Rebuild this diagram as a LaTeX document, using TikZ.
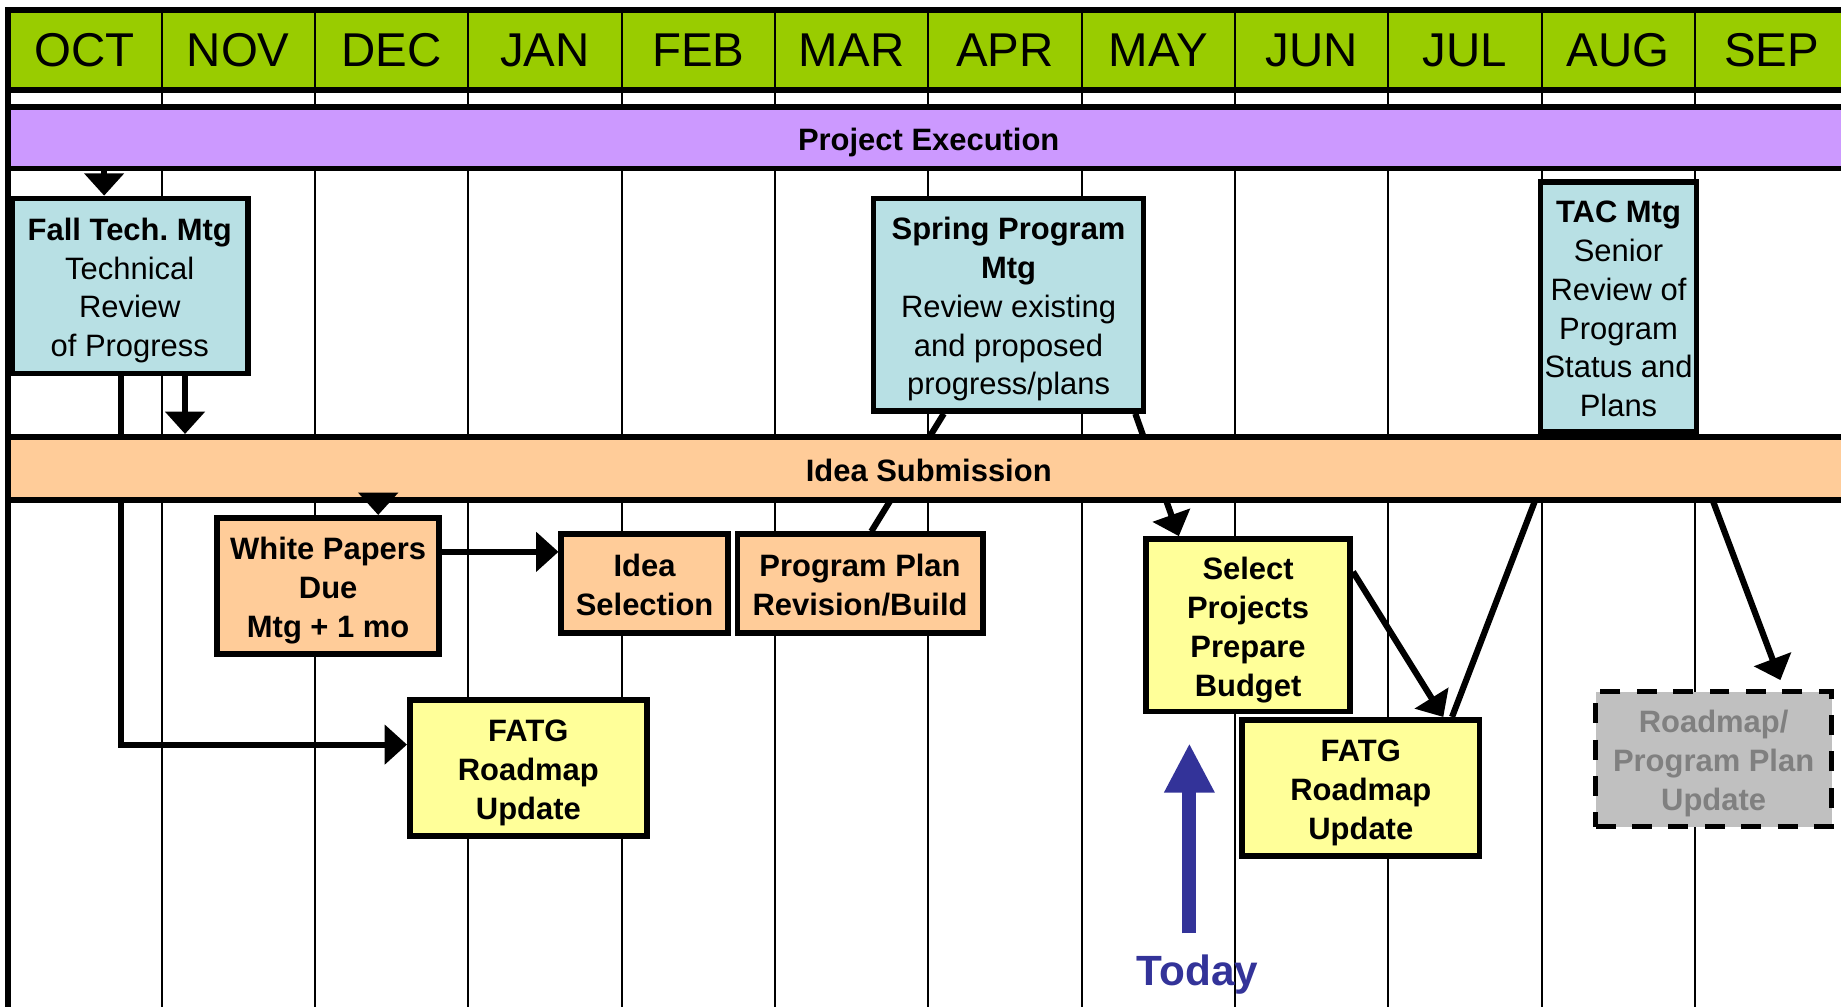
\documentclass[tikz,border=0pt]{standalone}
\usepackage{fontspec}
\setmainfont{Liberation Sans}
\usepackage{tikz}
\usetikzlibrary{arrows.meta,calc,positioning}
\definecolor{hdrgreen}{RGB}{153,204,0}
\definecolor{execpurple}{RGB}{204,153,255}
\definecolor{mtgcyan}{RGB}{184,224,228}
\definecolor{ideaorange}{RGB}{255,204,153}
\definecolor{taskyellow}{RGB}{255,255,153}
\definecolor{futuregray}{RGB}{192,192,192}
\definecolor{futuretext}{RGB}{128,128,128}
\definecolor{todayblue}{RGB}{51,51,153}
\newcommand{\boxstrut}{\rule{0pt}{1.03em}}
\frenchspacing

\begin{document}
\begin{tikzpicture}[x=0.02cm, y=-0.02cm,
  block/.style={rectangle,draw,line width=2.7pt,inner sep=0pt,align=center,font=\fontsize{15}{18.8}\selectfont,
    execute at end node={\rule[-0.212em]{0pt}{0.212em}}},
  mtg/.style={block,fill=mtgcyan},
  idea/.style={block,fill=ideaorange,font=\fontsize{15}{18.8}\selectfont\bfseries},
  task/.style={block,fill=taskyellow,font=\fontsize{15}{18.8}\selectfont\bfseries},
  band/.style={block,minimum width=31.36cm,font=\fontsize{15}{18.8}\selectfont\bfseries},
  month/.style={anchor=base,font=\fontsize{23}{27}\selectfont},
  arr/.style={line width=3pt,-{Triangle[length=0.38cm,width=0.66cm]}},
  link/.style={line width=3pt}]
\path[use as bounding box,fill=white] (0,0) rectangle (1568,858);

\fill[hdrgreen] (7,8.5) rectangle (1575,76.5);
\foreach \i in {1,...,11}
  \draw[line width=1pt] ({7+130.6*\i},8.5) -- ({7+130.6*\i},858);
\draw[line width=2.8pt] (1575,8.5) -- (7,8.5) -- (7,858);
\draw[line width=2.8pt] (7,76.5) -- (1575,76.5);
\foreach \m [count=\i from 0] in {OCT,NOV,DEC,JAN,FEB,MAR,APR,MAY,JUN,JUL,AUG,SEP}
  \node[month] (\m) at ({72.3+130.6*\i},57) {\m};

\node[band,fill=execpurple,minimum height=1.05cm] (exec) at (791,117.25) {\boxstrut Project Execution};

\node[mtg,minimum width=4.02cm,minimum height=2.98cm] (fall) at (110.5,243.5) {\boxstrut\textbf{Fall Tech. Mtg}\\Technical\\Review\\of Progress};
\node[mtg,minimum width=4.6cm,minimum height=3.62cm] (spring) at (859,259.5) {\boxstrut\textbf{Spring Program}\\\textbf{Mtg}\\Review existing\\and proposed\\progress/plans};
\node[mtg,minimum width=2.66cm,minimum height=4.26cm] (tac) at (1378.5,261.5) {\boxstrut\textbf{TAC Mtg}\\Senior\\Review of\\Program\\Status and\\Plans};
\node[idea,minimum width=3.78cm,minimum height=2.32cm] (papers) at (279.5,499) {\boxstrut White Papers\\Due\\Mtg + 1 mo};
\node[idea,minimum width=2.84cm,minimum height=1.68cm] (selection) at (549,497) {\boxstrut Idea\\Selection};
\node[idea,minimum width=4.18cm,minimum height=1.68cm] (plan) at (732.5,497) {\boxstrut Program Plan\\Revision/Build};
\node[task,minimum width=4.04cm,minimum height=2.32cm] (roadmapA) at (450,654) {\boxstrut FATG\\Roadmap\\Update};
\node[task,minimum width=3.48cm,minimum height=2.94cm] (budget) at (1063,532.5) {\boxstrut Select\\Projects\\Prepare\\Budget};
\node[task,minimum width=4.04cm,minimum height=2.32cm] (roadmapB) at (1159,671) {\boxstrut FATG\\Roadmap\\Update};
\node[block,fill=futuregray,text=futuretext,dash pattern=on 0.34cm off 0.28cm,font=\fontsize{15}{18.8}\selectfont\bfseries,minimum width=4.02cm,minimum height=2.3cm] (outlook) at (1459.5,646.5) {\boxstrut Roadmap/\\Program Plan\\Update};

\coordinate (fallin) at ($(fall.north west)!0.394!(fall.north east)$);
\coordinate (fallout) at ($(fall.south west)!0.729!(fall.south east)$);
\coordinate (falldown) at ($(fall.south west)!0.463!(fall.south east)$);
\coordinate (roadmapAin) at ($(roadmapA.north west)!0.336!(roadmapA.south west)$);
\coordinate (papersin) at ($(papers.north west)!0.72!(papers.north east)$);
\coordinate (papersout) at ($(papers.north east)!0.26!(papers.south east)$);
\coordinate (springA) at ($(spring.south west)!0.265!(spring.south east)$);
\coordinate (planin) at ($(plan.north west)!0.545!(plan.north east)$);
\coordinate (springB) at ($(spring.south west)!0.96!(spring.south east)$);
\coordinate (budgetin) at ($(budget.north west)!0.17!(budget.north east)$);
\coordinate (budgetout) at ($(budget.north east)!0.2!(budget.south east)$);
\coordinate (roadmapBin) at ($(roadmapB.north west)!0.84!(roadmapB.north east)$);
\coordinate (roadmapBup) at ($(roadmapB.north west)!0.876!(roadmapB.north east)$);
\coordinate (tacA) at ($(tac.south west)!0.14!(tac.south east)$);
\coordinate (tacB) at ($(tac.south west)!0.93!(tac.south east)$);
\coordinate (outlookin) at ($(outlook.north west)!0.79!(outlook.north east)$);

\draw[link] (springA) -- (planin);
\draw[arr] (springB) -- (budgetin);
\draw[link] (tacA) -- (roadmapBup);
\draw[arr,shorten >=4.5pt] (tacB) -- (outlookin);
\draw[arr] (falldown) |- (roadmapAin);

\node[band,fill=ideaorange,minimum height=1.08cm] (idea) at (791,399) {\boxstrut Idea Submission};

\draw[arr] (fallin |- exec.south) -- (fallin);
\draw[arr] (fallout) -- (fallout |- idea.north);
\draw[arr] (papersin |- idea.south) -- (papersin);
\draw[arr] (papersout) -- (papersout -| selection.west);
\draw[arr] (budgetout) -- (roadmapBin);

\node[anchor=base,text=todayblue,font=\fontsize{20.5}{24}\selectfont\bfseries] (today) at (1020,839) {Today};
\coordinate (todaybase) at (1013,795);
\coordinate (todaytip) at (1013,633);
\draw[todayblue,line width=6.8pt,-{Triangle[length=0.84cm,width=0.8cm]}] (todaybase) -- (todaytip);
\end{tikzpicture}
\end{document}
